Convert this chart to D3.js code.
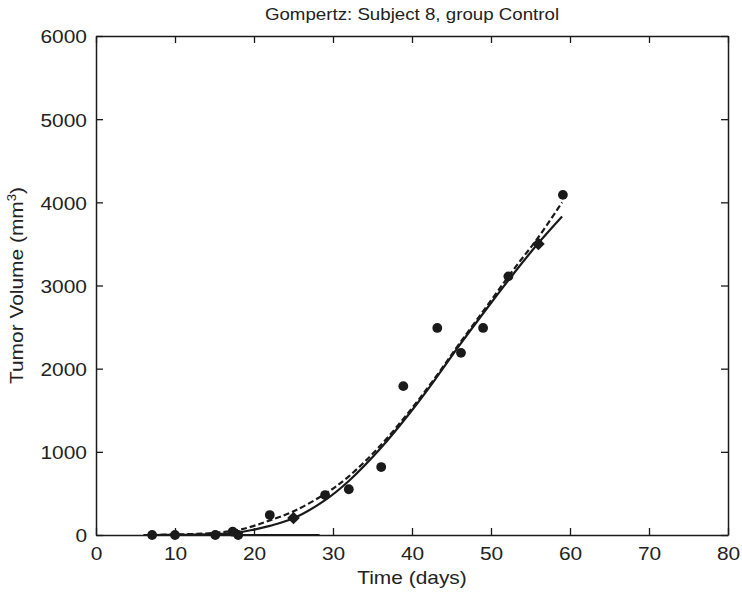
<!DOCTYPE html>
<html>
<head>
<meta charset="utf-8">
<script src="https://cdn.jsdelivr.net/npm/d3@7"></script>
<style>
  html, body { margin: 0; padding: 0; background: #fff; }
  svg text { font-family: "Liberation Sans", Arial, Helvetica, sans-serif; fill: #222; }
</style>
</head>
<body>
<svg id="chart" width="742" height="596"></svg>
<script>
// ---- data ----
const title = "Gompertz: Subject 8, group Control";
const xTicks = [0, 10, 20, 30, 40, 50, 60, 70, 80];
const yTicks = [0, 1000, 2000, 3000, 4000, 5000, 6000];

// observed tumor volumes (filled circles)
const obsDays   = [7.1, 10, 15.1, 17.3, 18, 22, 29, 32, 36.1, 38.9, 43.2, 46.2, 49, 52.2, 59.1];
const obsVolume = [0, 0, 0, 40, 0, 240, 480, 550, 817, 1790, 2490, 2190, 2490, 3110, 4090];

// observed points drawn as diamonds
const diaDays   = [25, 56];
const diaVolume = [205, 3500];

// fitted curves
const fitDays    = [7, 10, 15, 18, 20, 22, 25, 29, 32, 36, 40, 43, 46, 50, 53, 56, 59];
const fitSolid   = [0, 2, 10, 30, 65, 110, 200, 420, 650, 1040, 1500, 1880, 2280, 2790, 3160, 3510, 3830];
const fitDashed  = [2, 6, 25, 60, 110, 175, 285, 495, 705, 1075, 1525, 1900, 2300, 2820, 3210, 3580, 4000];

// flat zero segment
const flatDays   = [6, 28.3];
const flatVolume = [0, 0];

// ---- layout ----
const svg = d3.select("#chart");
const L = 96, R = 728, T = 36, B = 535;
const x = d3.scaleLinear().domain([0, 80]).range([L, R]);
const y = d3.scaleLinear().domain([0, 6000]).range([B, T]);
const ink = "#1a1a1a";
const STRETCH = 1.1;

function stretch(sel) {
  sel.each(function() {
    const w = this.getComputedTextLength();
    d3.select(this).attr("textLength", w * STRETCH).attr("lengthAdjust", "spacingAndGlyphs");
  });
}

// lines
const line = d3.line().x(d => x(d[0])).y(d => y(d[1])).curve(d3.curveCatmullRom.alpha(0.5));
svg.append("path")
  .datum(flatDays.map((d, i) => [d, flatVolume[i]]))
  .attr("d", d3.line().x(d => x(d[0])).y(d => y(d[1])))
  .attr("fill", "none").attr("stroke", ink).attr("stroke-width", 2.2);
svg.append("path")
  .datum(fitDays.map((d, i) => [d, fitSolid[i]]))
  .attr("d", line).attr("fill", "none").attr("stroke", ink).attr("stroke-width", 2.2);
svg.append("path")
  .datum(fitDays.map((d, i) => [d, fitDashed[i]]))
  .attr("d", line).attr("fill", "none").attr("stroke", ink).attr("stroke-width", 2.2)
  .attr("stroke-dasharray", "6,3");

// markers
svg.append("g").selectAll("circle")
  .data(obsDays.map((d, i) => [d, obsVolume[i]]))
  .join("circle")
  .attr("cx", d => x(d[0])).attr("cy", d => y(d[1])).attr("r", 4.9)
  .attr("fill", ink);
const diamond = d3.symbol().type(d3.symbolSquare).size(80);
svg.append("g").selectAll("path")
  .data(diaDays.map((d, i) => [d, diaVolume[i]]))
  .join("path")
  .attr("transform", d => `translate(${x(d[0])},${y(d[1])}) rotate(45)`)
  .attr("d", diamond)
  .attr("fill", ink);

// axes (box with inward ticks)
const tickLen = 7;
const fmt = d3.format("d");
const axB = svg.append("g").attr("transform", `translate(0,${B})`)
  .call(d3.axisBottom(x).tickValues(xTicks).tickFormat(fmt).tickSizeInner(-tickLen).tickSizeOuter(0).tickPadding(12));
const axT = svg.append("g").attr("transform", `translate(0,${T})`)
  .call(d3.axisTop(x).tickValues(xTicks).tickSizeInner(-tickLen).tickSizeOuter(0).tickFormat(""));
const axL = svg.append("g").attr("transform", `translate(${L},0)`)
  .call(d3.axisLeft(y).tickValues(yTicks).tickFormat(fmt).tickSizeInner(-tickLen).tickSizeOuter(0).tickPadding(9));
const axR = svg.append("g").attr("transform", `translate(${R},0)`)
  .call(d3.axisRight(y).tickValues(yTicks).tickSizeInner(-tickLen).tickSizeOuter(0).tickFormat(""));
[axB, axT, axL, axR].forEach(a => {
  a.select(".domain").attr("stroke", ink).attr("stroke-width", 1.5);
  a.selectAll(".tick line").attr("stroke", ink).attr("stroke-width", 1.3);
});
axB.selectAll(".tick text").attr("font-size", 19).attr("fill", ink).call(stretch);
axL.selectAll(".tick text").attr("font-size", 19).attr("fill", ink).attr("dy", "0.36em").call(stretch);

// title
svg.append("text").attr("x", (L + R) / 2).attr("y", 20).attr("text-anchor", "middle")
  .attr("font-size", 17).text(title).call(stretch);

// axis labels
svg.append("text").attr("x", (L + R) / 2).attr("y", 584).attr("text-anchor", "middle")
  .attr("font-size", 19).text("Time (days)").call(stretch);

const yl = svg.append("text")
  .attr("transform", `translate(23,${(T + B) / 2}) rotate(-90)`)
  .attr("text-anchor", "middle").attr("font-size", 19);
yl.append("tspan").text("Tumor Volume (mm");
yl.append("tspan").attr("font-size", 12).attr("dy", -7).text("3");
yl.append("tspan").attr("dy", 7).text(")");
yl.call(stretch);
</script>
</body>
</html>
